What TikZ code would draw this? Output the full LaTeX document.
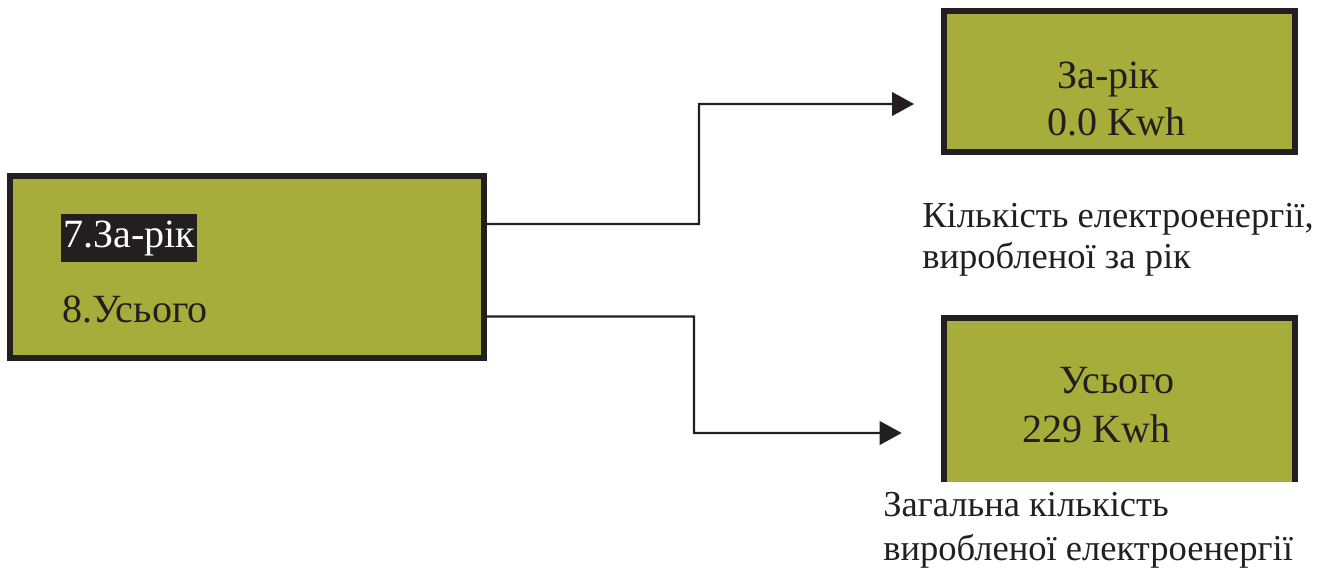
\documentclass[tikz,border=0pt]{standalone}
\usepackage{fontspec}
\setmainfont{Liberation Serif}
\usetikzlibrary{arrows.meta}
\definecolor{lcdgreen}{HTML}{A6AD3A}
\definecolor{framegray}{HTML}{231F20}
\tikzset{
    screen/.style={fill=lcdgreen,draw=framegray,line width=0.12cm,inner sep=0pt},
    frame/.style={draw=framegray,line width=0.12cm},
    link/.style={draw=framegray,line width=0.046cm,-{Triangle[length=0.44cm,width=0.47cm]}},
    txt/.style={inner sep=0pt,font=\fontsize{22.8}{22.8}\selectfont,text=framegray},
    note/.style={inner sep=0pt,font=\fontsize{20.8}{22.8}\selectfont,text=framegray,align=left},
}
\begin{document}
\begin{tikzpicture}[x=0.02cm,y=-0.02cm]
        \useasboundingbox (0,0) rectangle (1321,572);

        % menu and the two screens
        \node[screen,minimum width=9.48cm,minimum height=3.64cm](menu)at(247,267){};
        \node[screen,minimum width=7.02cm,minimum height=2.82cm](year)at(1119.5,81.5){};
        \node[fill=lcdgreen,inner sep=0pt,minimum width=7.14cm,minimum height=3.34cm](total)at(1119.5,398.5){};
        \draw[frame]([xshift=0.06cm]total.south west)--([xshift=0.06cm,yshift=-0.06cm]total.north west)--([xshift=-0.06cm,yshift=-0.06cm]total.north east)--([xshift=-0.06cm]total.south east);

        % texts
        \node[txt,fill=framegray,text=white,inner xsep=1pt,inner ysep=0.13cm,anchor=north west](item7)at(61,214){7.За-рік};
        \node[txt,anchor=base west](item8)at(62,322){8.Усього};
        \node[txt,anchor=base west](yearname)at(1057,88){За-рік};
        \node[txt,anchor=base west](yearval)at(1047,135){0.0 Kwh};
        \node[txt,anchor=base west](totalname)at(1059,393){Усього};
        \node[txt,anchor=base west](totalval)at(1022,442){229 Kwh};
        \node[note,anchor=base west](yearnote)at(922,268){Кількість електроенергії,\\виробленої за рік};
        \node[note,anchor=base west](totalnote)at(883,560){Загальна кількість\\[1.7pt]виробленої електроенергії};

        % connectors
        \coordinate(bend1)at(699,104);
        \coordinate(bend2)at(694,433);
        \draw[link]([yshift=0.86cm]menu.east)-|(bend1)--([xshift=-0.54cm,yshift=-0.45cm]year.west);
        \draw[link]([yshift=-0.99cm]menu.east)-|(bend2)--([xshift=-0.78cm,yshift=-0.69cm]total.west);
    \end{tikzpicture}
\end{document}
